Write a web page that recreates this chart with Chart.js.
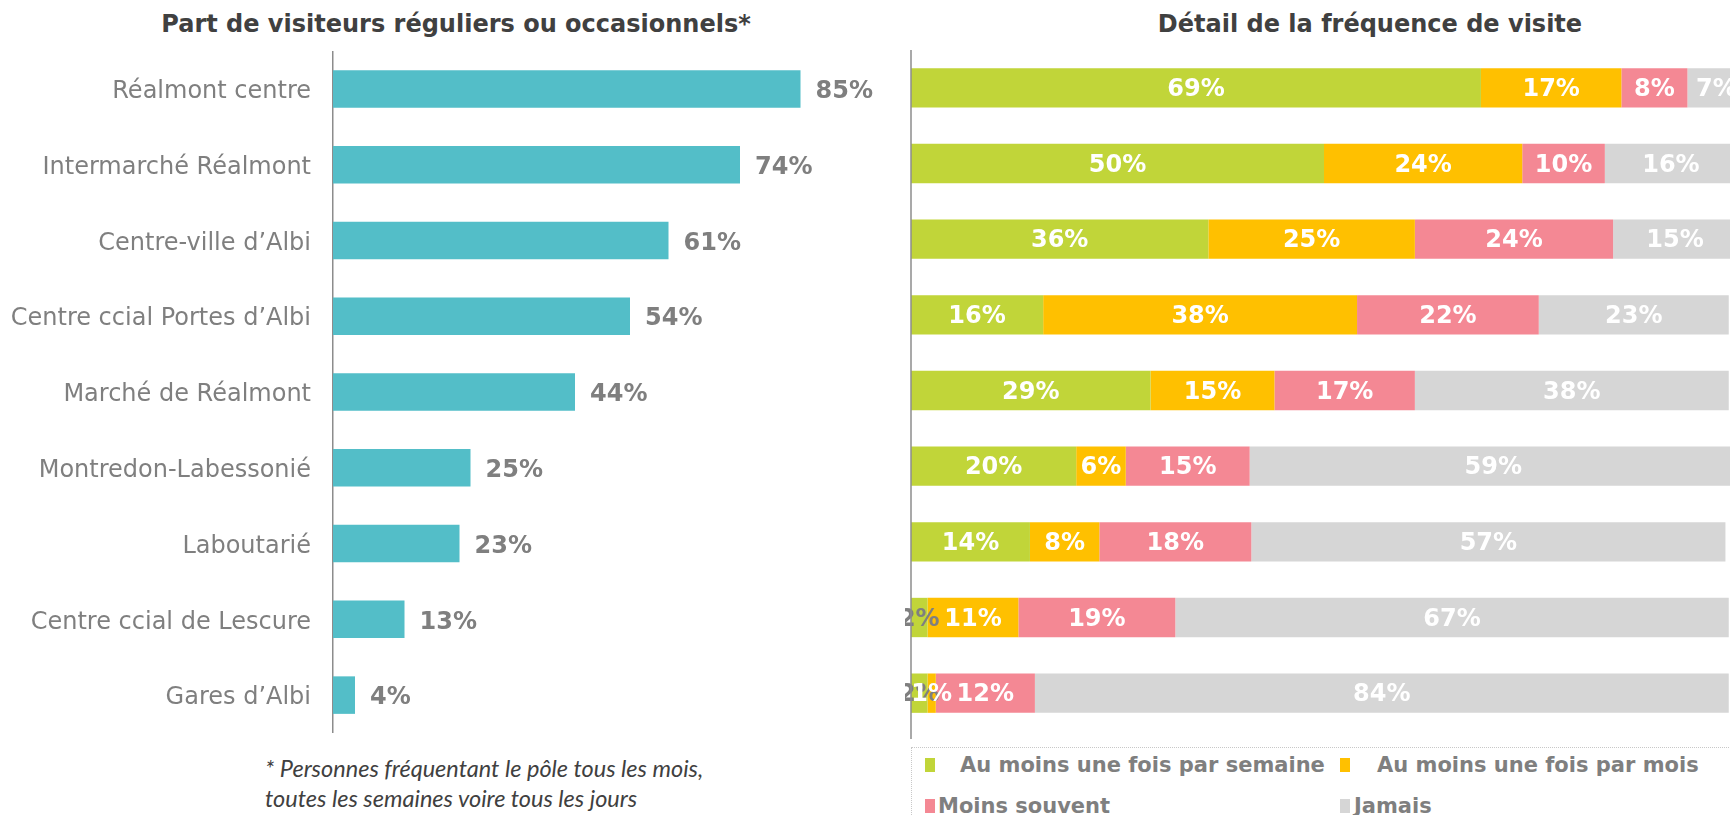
<!DOCTYPE html>
<html>
<head>
<meta charset="utf-8">
<script src="https://cdn.jsdelivr.net/npm/chart.js@4.4.0/dist/chart.umd.min.js"></script>
<style>
  body { margin: 0; width: 1730px; height: 815px; overflow: hidden; background: #fff; position: relative;
         font-family: "DejaVu Sans", Verdana, sans-serif; }
  .title { position: absolute; top: 9px; font-weight: bold; font-size: 24px; line-height: 30px;
           color: #404040; text-align: center; white-space: nowrap; }
  canvas { position: absolute; }
  .note { position: absolute; left: 265px; font-family: Lato, "Open Sans", sans-serif; font-style: italic;
          font-size: 23.5px; color: #404040; white-space: nowrap; line-height: 28px; }
  .legendBox { position: absolute; left: 911px; top: 747px; width: 840px; height: 100px;
               border: 1.5px dotted #c8c8c8; }
  .lgItem { position: absolute; font-weight: bold; font-size: 21px; color: #7f7f7f; white-space: nowrap; line-height: 26px; }
  .lgMark { position: absolute; width: 10px; height: 14px; }
</style>
</head>
<body>
<div class="title" style="left:0; width:912px;">Part de visiteurs réguliers ou occasionnels*</div>
<div class="title" style="left:1010px; width:720px;">Détail de la fréquence de visite</div>

<canvas id="leftchart" width="890" height="682" style="left:0; top:51px;"></canvas>
<canvas id="rightchart" width="832" height="689" style="left:905px; top:50px;"></canvas>

<div class="note" style="top:754px;">* Personnes fréquentant le pôle tous les mois,</div>
<div class="note" style="top:784px;">toutes les semaines voire tous les jours</div>

<div class="legendBox"></div>
<div id="legend"></div>

<script>
// data
const categories = ['Réalmont centre', 'Intermarché Réalmont', 'Centre-ville d’Albi', 'Centre ccial Portes d’Albi',
    'Marché de Réalmont', 'Montredon-Labessonié', 'Laboutarié', 'Centre ccial de Lescure', 'Gares d’Albi'];
const regularShare = [85, 74, 61, 54, 44, 25, 23, 13, 4];

const seriesNames = ['Au moins une fois par semaine', 'Au moins une fois par mois', 'Moins souvent', 'Jamais'];
const weekly    = [69, 50, 36, 16, 29, 20, 14.4, 2, 2];
const monthly   = [17, 24, 25, 38, 15, 6, 8.4, 11, 1];
const lessOften = [8, 10, 24, 22, 17, 15, 18.4, 19, 12];
const never     = [7, 16, 15, 23, 38, 59, 57.4, 67, 84];

const seriesColors = ['#C1D539', '#FFC000', '#F48894', '#D6D6D6'];
const grey = '#7F7F7F';

// draws the % labels, outside for the left chart, centered for the stacked one
const valueLabels = {
    id: 'valueLabels',
    afterDatasetsDraw(chart, args, opts) {
        const ctx = chart.ctx;
        ctx.save();
        ctx.font = 'bold 24px "DejaVu Sans", Verdana, sans-serif';
        ctx.textBaseline = 'middle';
        chart.data.datasets.forEach((ds, di) => {
            chart.getDatasetMeta(di).data.forEach((bar, i) => {
                const v = ds.data[i];
                const txt = Math.round(v) + '%';
                if (opts.inside) {
                    ctx.textAlign = 'center';
                    ctx.fillStyle = (di === 0 && v < 5) ? grey : '#FFFFFF';
                    ctx.fillText(txt, (bar.x + bar.base) / 2, bar.y + 2);
                } else {
                    ctx.textAlign = 'left';
                    ctx.fillStyle = grey;
                    ctx.fillText(txt, bar.x + 15, bar.y + 3);
                }
            });
        });
        ctx.restore();
    }
};

new Chart(document.getElementById('leftchart'), {
    type: 'bar',
    data: {
        labels: categories,
        datasets: [{
            data: regularShare,
            backgroundColor: '#53BEC8',
            barPercentage: 0.495,
            categoryPercentage: 1
        }]
    },
    options: {
        indexAxis: 'y',
        responsive: false,
        animation: false,
        layout: { padding: { top: 0, bottom: 0, left: 0, right: 7 } },
        plugins: { legend: { display: false }, tooltip: { enabled: false }, valueLabels: { inside: false } },
        scales: {
            x: { display: false, min: 0, max: 100 },
            y: {
                grid: { display: false },
                border: { display: true, color: '#8C8C8C', width: 1.5 },
                ticks: { color: grey, padding: 14, labelOffset: 3,
                         font: { family: '"DejaVu Sans", Verdana, sans-serif', size: 24 } },
                afterFit: s => { s.width = 333; s.paddingTop = 0; s.paddingBottom = 0; }
            }
        }
    },
    plugins: [valueLabels]
});

const stacked = [weekly, monthly, lessOften, never];
new Chart(document.getElementById('rightchart'), {
    type: 'bar',
    data: {
        labels: categories,
        datasets: stacked.map((vals, k) => ({
            label: seriesNames[k],
            data: vals,
            backgroundColor: seriesColors[k],
            barPercentage: 0.52,
            categoryPercentage: 1
        }))
    },
    options: {
        indexAxis: 'y',
        responsive: false,
        animation: false,
        layout: { padding: { bottom: 8 } },
        plugins: { legend: { display: false }, tooltip: { enabled: false }, valueLabels: { inside: true } },
        scales: {
            x: { display: false, stacked: true, min: 0, max: 100 },
            y: {
                stacked: true,
                grid: { display: false },
                border: { display: false },
                ticks: { display: false },
                afterFit: s => { s.width = 6; s.paddingTop = 0; s.paddingBottom = 0; }
            }
        }
    },
    plugins: [valueLabels, {
        // vertical axis line, running a little below the last bar as in the original
        id: 'axisLine',
        afterDraw(chart) {
            const { ctx, chartArea } = chart;
            ctx.save();
            ctx.strokeStyle = '#8C8C8C';
            ctx.lineWidth = 1.5;
            ctx.beginPath();
            ctx.moveTo(chartArea.left, chartArea.top);
            ctx.lineTo(chartArea.left, chartArea.bottom + 8);
            ctx.stroke();
            ctx.restore();
        }
    }]
});

// legend, laid out like the original 2x2 box
const legendPos = [[925, 960, 765], [1340, 1377, 765], [925, 938, 806], [1340, 1354, 806]];
const legend = document.getElementById('legend');
seriesNames.forEach((name, k) => {
    const [mx, tx, cy] = legendPos[k];
    const m = document.createElement('div');
    m.className = 'lgMark';
    m.style.left = mx + 'px';
    m.style.top = (cy - 7) + 'px';
    m.style.background = seriesColors[k];
    legend.appendChild(m);
    const t = document.createElement('div');
    t.className = 'lgItem';
    t.style.left = tx + 'px';
    t.style.top = (cy - 13) + 'px';
    t.textContent = name;
    legend.appendChild(t);
});
</script>
</body>
</html>
